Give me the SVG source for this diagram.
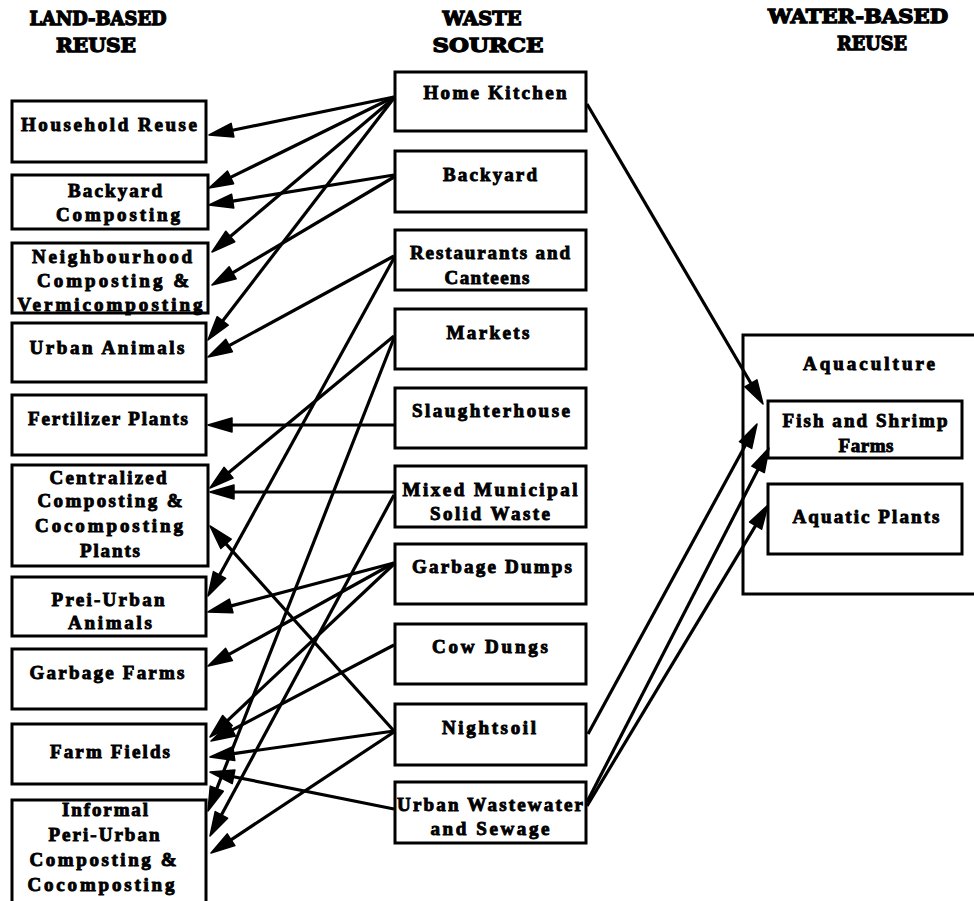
<svg xmlns="http://www.w3.org/2000/svg" width="974" height="901" viewBox="0 0 974 901">
<style>
.bg{fill:#fff}
.box{fill:#fff;stroke:#000;stroke-width:3}
.lbl{font-family:"Liberation Serif","Times New Roman",serif;font-weight:bold;font-size:19px;fill:#000;stroke:#000;stroke-width:0.9;text-anchor:middle}
.hdr{font-family:"DejaVu Serif","Liberation Serif",serif;font-weight:bold;font-size:19px;fill:#000;stroke:#000;stroke-width:1.3;text-anchor:middle}
.edge line{stroke:#000;stroke-width:3.2}
.edge polygon{fill:#000;stroke:#000;stroke-width:1.5;stroke-linejoin:round}
</style>
<rect class="bg" x="0" y="0" width="974" height="901"/>

<g id="headers">
<text class="hdr" x="98" y="25" textLength="137" lengthAdjust="spacingAndGlyphs">LAND-BASED</text>
<text class="hdr" x="96" y="52" textLength="80" lengthAdjust="spacingAndGlyphs">REUSE</text>
<text class="hdr" x="482" y="25" textLength="79" lengthAdjust="spacingAndGlyphs">WASTE</text>
<text class="hdr" x="488" y="52" textLength="111" lengthAdjust="spacingAndGlyphs">SOURCE</text>
<text class="hdr" x="858" y="23" textLength="180" lengthAdjust="spacingAndGlyphs">WATER-BASED</text>
<text class="hdr" x="872" y="50" textLength="70" lengthAdjust="spacingAndGlyphs">REUSE</text>
</g>

<!-- Land-based reuse -->
<g id="household-reuse"><rect class="box" x="12" y="101" width="194" height="61"/>
<text class="lbl" x="109" y="131" textLength="176" lengthAdjust="spacing">Household Reuse</text></g>
<g id="backyard-composting"><rect class="box" x="12" y="175" width="196" height="54"/>
<text class="lbl" x="115" y="197" textLength="94" lengthAdjust="spacing">Backyard</text>
<text class="lbl" x="118" y="221" textLength="124" lengthAdjust="spacing">Composting</text></g>
<g id="neighbourhood-composting"><rect class="box" x="12" y="243" width="196" height="70"/>
<text class="lbl" x="112" y="263" textLength="160" lengthAdjust="spacing">Neighbourhood</text>
<text class="lbl" x="113" y="287" textLength="152" lengthAdjust="spacing">Composting &amp;</text>
<text class="lbl" x="110" y="311" textLength="185" lengthAdjust="spacing">Vermicomposting</text></g>
<g id="urban-animals"><rect class="box" x="12" y="323" width="194" height="59"/>
<text class="lbl" x="107" y="354" textLength="155" lengthAdjust="spacing">Urban Animals</text></g>
<g id="fertilizer-plants"><rect class="box" x="12" y="395" width="194" height="60"/>
<text class="lbl" x="108" y="425" textLength="160" lengthAdjust="spacing">Fertilizer Plants</text></g>
<g id="centralized-composting"><rect class="box" x="12" y="465" width="196" height="101"/>
<text class="lbl" x="108" y="484" textLength="117" lengthAdjust="spacing">Centralized</text>
<text class="lbl" x="110" y="507" textLength="145" lengthAdjust="spacing">Composting &amp;</text>
<text class="lbl" x="109" y="532" textLength="148" lengthAdjust="spacing">Cocomposting</text>
<text class="lbl" x="110" y="557" textLength="60" lengthAdjust="spacing">Plants</text></g>
<g id="prei-urban-animals"><rect class="box" x="12" y="577" width="194" height="59"/>
<text class="lbl" x="108" y="606" textLength="113" lengthAdjust="spacing">Prei-Urban</text>
<text class="lbl" x="110" y="629" textLength="84" lengthAdjust="spacing">Animals</text></g>
<g id="garbage-farms"><rect class="box" x="12" y="649" width="194" height="60"/>
<text class="lbl" x="107" y="679" textLength="155" lengthAdjust="spacing">Garbage Farms</text></g>
<g id="farm-fields"><rect class="box" x="12" y="724" width="194" height="60"/>
<text class="lbl" x="110" y="758" textLength="120" lengthAdjust="spacing">Farm Fields</text></g>
<g id="informal-composting"><rect class="box" x="12" y="800" width="194" height="110"/>
<text class="lbl" x="105" y="816" textLength="86" lengthAdjust="spacing">Informal</text>
<text class="lbl" x="104" y="841" textLength="111" lengthAdjust="spacing">Peri-Urban</text>
<text class="lbl" x="103" y="866" textLength="147" lengthAdjust="spacing">Composting &amp;</text>
<text class="lbl" x="101" y="891" textLength="147" lengthAdjust="spacing">Cocomposting</text></g>

<!-- Waste sources -->
<g id="home-kitchen"><rect class="box" x="395" y="72" width="191" height="59"/>
<text class="lbl" x="495" y="99" textLength="143" lengthAdjust="spacing">Home Kitchen</text></g>
<g id="backyard"><rect class="box" x="395" y="151" width="191" height="61"/>
<text class="lbl" x="490" y="181" textLength="94" lengthAdjust="spacing">Backyard</text></g>
<g id="restaurants"><rect class="box" x="395" y="230" width="191" height="60"/>
<text class="lbl" x="490" y="259" textLength="160" lengthAdjust="spacing">Restaurants and</text>
<text class="lbl" x="487" y="284" textLength="85" lengthAdjust="spacing">Canteens</text></g>
<g id="markets"><rect class="box" x="395" y="309" width="191" height="60"/>
<text class="lbl" x="488" y="339" textLength="83" lengthAdjust="spacing">Markets</text></g>
<g id="slaughterhouse"><rect class="box" x="395" y="388" width="191" height="60"/>
<text class="lbl" x="491" y="417" textLength="158" lengthAdjust="spacing">Slaughterhouse</text></g>
<g id="mixed-municipal"><rect class="box" x="395" y="466" width="191" height="61"/>
<text class="lbl" x="490" y="496" textLength="175" lengthAdjust="spacing">Mixed Municipal</text>
<text class="lbl" x="490" y="520" textLength="120" lengthAdjust="spacing">Solid Waste</text></g>
<g id="garbage-dumps"><rect class="box" x="395" y="544" width="191" height="60"/>
<text class="lbl" x="492" y="573" textLength="160" lengthAdjust="spacing">Garbage Dumps</text></g>
<g id="cow-dungs"><rect class="box" x="395" y="624" width="191" height="60"/>
<text class="lbl" x="490" y="653" textLength="116" lengthAdjust="spacing">Cow Dungs</text></g>
<g id="nightsoil"><rect class="box" x="395" y="704" width="191" height="61"/>
<text class="lbl" x="489" y="734" textLength="94" lengthAdjust="spacing">Nightsoil</text></g>
<g id="urban-wastewater"><rect class="box" x="395" y="782" width="191" height="61"/>
<text class="lbl" x="490" y="811" textLength="186" lengthAdjust="spacing">Urban Wastewater</text>
<text class="lbl" x="490" y="835" textLength="119" lengthAdjust="spacing">and Sewage</text></g>

<!-- Water-based reuse -->
<g id="aquaculture"><rect class="box" x="743" y="335" width="240" height="259"/>
<text class="lbl" x="869" y="370" textLength="132" lengthAdjust="spacing">Aquaculture</text></g>
<g id="fish-shrimp"><rect class="box" x="768" y="401" width="194" height="57"/>
<text class="lbl" x="865" y="427" textLength="165" lengthAdjust="spacing">Fish and Shrimp</text>
<text class="lbl" x="866" y="452" textLength="55" lengthAdjust="spacing">Farms</text></g>
<g id="aquatic-plants"><rect class="box" x="768" y="484" width="194" height="70"/>
<text class="lbl" x="866" y="523" textLength="147" lengthAdjust="spacing">Aquatic Plants</text></g>

<g id="connectors" class="edge" fill="#000">
<line x1="394" y1="97" x2="232.5" y2="130.2"/><polygon points="209,135 231.1,123.3 233.9,137"/>
<line x1="394" y1="97" x2="230.5" y2="177.4"/><polygon points="209,188 227.5,171.1 233.6,183.7"/>
<line x1="394" y1="98" x2="230.3" y2="236.5"/><polygon points="212,252 225.8,231.2 234.8,241.8"/>
<line x1="394" y1="98" x2="222.6" y2="321"/><polygon points="208,340 217.1,316.7 228.2,325.2"/>
<line x1="394" y1="175" x2="232.7" y2="201.2"/><polygon points="209,205 231.6,194.3 233.8,208.1"/>
<line x1="394" y1="177" x2="232.6" y2="272.8"/><polygon points="212,285 229.1,266.7 236.2,278.8"/>
<line x1="394" y1="256" x2="229.1" y2="345.6"/><polygon points="208,357 225.8,339.4 232.4,351.7"/>
<line x1="394" y1="258" x2="219.6" y2="575"/><polygon points="208,596 213.4,571.6 225.7,578.3"/>
<line x1="394" y1="336" x2="228.5" y2="472.7"/><polygon points="210,488 224,467.3 233,478.1"/>
<line x1="394" y1="338" x2="216.8" y2="788.7"/><polygon points="208,811 210.3,786.1 223.3,791.2"/>
<line x1="394" y1="425" x2="232" y2="425"/><polygon points="208,425 232,418 232,432"/>
<line x1="394" y1="492" x2="234" y2="492"/><polygon points="210,492 234,485 234,499"/>
<line x1="394" y1="495" x2="221.4" y2="814.9"/><polygon points="210,836 215.2,811.6 227.6,818.2"/>
<line x1="394" y1="563" x2="231.2" y2="605.9"/><polygon points="208,612 229.4,599.1 233,612.7"/>
<line x1="394" y1="563" x2="229" y2="654.4"/><polygon points="208,666 225.6,648.3 232.4,660.5"/>
<line x1="394" y1="564" x2="227.5" y2="720.6"/><polygon points="210,737 222.7,715.5 232.3,725.7"/>
<line x1="394" y1="645" x2="232.3" y2="729.9"/><polygon points="211,741 229,723.7 235.5,736.1"/>
<line x1="394" y1="731" x2="226" y2="543.9"/><polygon points="210,526 231.2,539.2 220.8,548.5"/>
<line x1="394" y1="731" x2="233.8" y2="753.6"/><polygon points="210,757 232.8,746.7 234.8,760.6"/>
<line x1="394" y1="732" x2="231" y2="839.8"/><polygon points="211,853 227.2,833.9 234.9,845.6"/>
<line x1="394" y1="809" x2="233.5" y2="776.7"/><polygon points="210,772 234.9,769.9 232.2,783.6"/>
<line x1="587" y1="104" x2="750.9" y2="383.3"/><polygon points="763,404 744.8,386.8 756.9,379.8"/>
<line x1="588" y1="734" x2="745.5" y2="445.1"/><polygon points="757,424 751.7,448.4 739.4,441.7"/>
<line x1="587" y1="802" x2="758" y2="469.4"/><polygon points="769,448 764.3,472.6 751.8,466.2"/>
<line x1="587" y1="806" x2="755.6" y2="525.6"/><polygon points="768,505 761.6,529.2 749.6,522"/>
</g>
</svg>
